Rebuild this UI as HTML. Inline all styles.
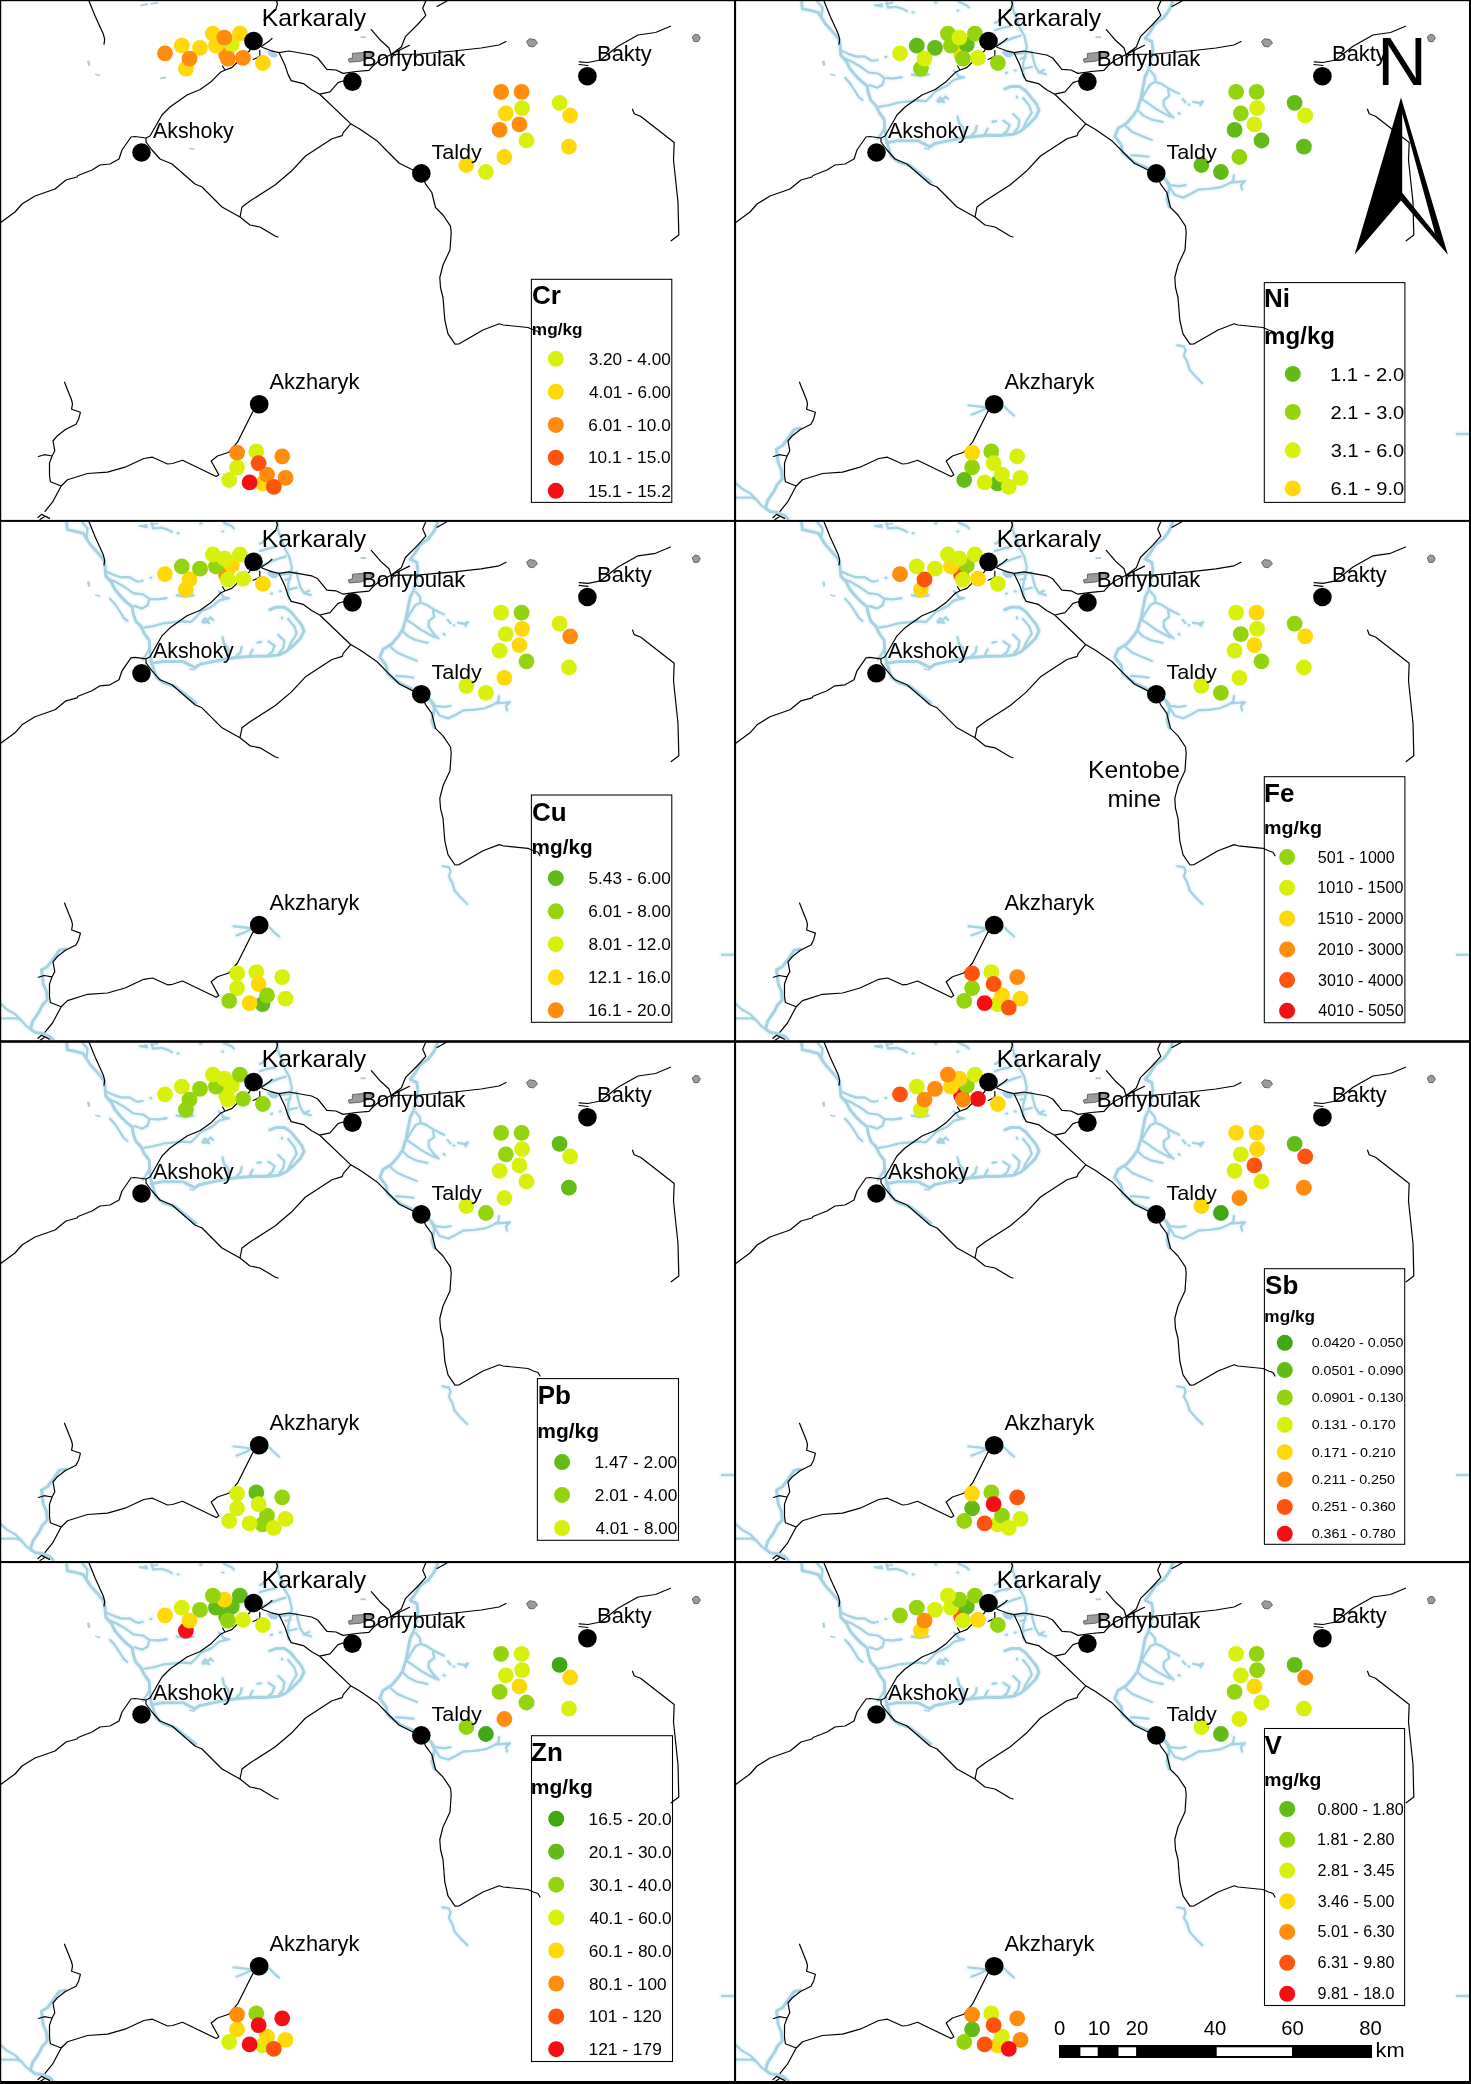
<!DOCTYPE html>
<html><head><meta charset="utf-8"><title>Heavy metals maps</title>
<style>html,body{margin:0;padding:0;background:#fff}svg{display:block}text{font-family:"Liberation Sans",sans-serif;fill:#000}svg{will-change:transform}</style></head><body>
<svg width="1471" height="2084" viewBox="0 0 1471 2084">
<defs>
<clipPath id="cp"><rect x="0" y="0" width="735.5" height="520.5"/></clipPath>
<g id="rivhalo" fill="none" stroke="#f3fbfd" stroke-width="6.5" stroke-linecap="round" stroke-linejoin="round">
<path d="M66.7 2.6 L67.3 8.8 L75.9 10.6 L83.2 12.4 L86.3 17.3 L90.6 24.0 L96.7 30.8 L102.2 36.9 L104.7 41.8 L105.3 49.1 L105.9 55.3 L111.4 61.4 L115.0 68.7 L120.0 74.8 L126.0 81.0 L132.2 85.9 L133.4 93.2 L135.9 100.5 L140.8 105.4 L144.4 112.8 L149.3 119.5 L149.6 127.8 L150.9 138.7 L153.6 148.2 L156.4 156.4 L163.2 161.8 L175.4 165.9 L187.6 175.4 L195.8 182.2 M82.6 2.0 L87.5 7.5 L86.9 13.7 L86.3 17.3 M149.6 127.8 L146.2 133.9 L142.8 138.7 M107.1 51.0 L113.8 54.0 L121.2 56.5 L129.8 56.5 L135.9 60.2 L139.5 60.8 M141.6 60.0 L142.6 60.0 M150.4 57.0 L151.4 57.0 M107.7 57.7 L116.3 61.4 L124.9 66.3 L133.4 72.4 L143.2 73.6 L149.3 77.9 L157.9 78.5 L166.5 77.3 M149.3 78.5 L147.5 84.6 L142.0 87.7 L134.6 85.2 M110.2 77.9 L115.1 83.4 L120.0 90.8 L123.6 96.9 L127.3 99.9 M144.4 106.7 L153.0 105.4 L164.0 102.4 L176.2 101.2 L182.4 100.5 L191.0 101.2 L195.8 96.5 L201.1 90.8 L211.7 85.9 L219.1 79.7 L228.9 77.3 M219.0 70.6 L221.5 72.4 L223.2 76.0 L228.1 77.3 M176.9 74.5 L185.0 76.0 L193.4 74.5 M202.5 101.0 L205.0 97.5 L208.0 99.5 L210.5 96.5 L213.0 99.0 M203.5 101.8 L206.0 101.0 L209.0 102.0 M151.2 142.8 L162.4 140.7 L182.8 140.7 L195.0 146.8 L200.0 143.4 L212.2 140.9 L224.5 138.5 L236.7 136.6 L252.6 135.4 L266.1 135.4 L278.3 134.2 L285.7 131.1 L293.0 125.0 L300.3 117.7 L304.0 110.3 L301.6 104.2 L296.7 98.1 L290.6 90.8 L284.4 86.5 L275.9 86.5 L269.8 88.9 M288.1 98.1 L294.2 105.4 L296.7 112.8 L290.6 122.6 L288.1 128.7 M278.3 114.0 L284.4 120.1 L283.2 127.5 L279.5 131.7 M268.5 120.7 L274.6 125.0 L272.2 131.1 L268.5 134.0 M257.5 121.8 L261.0 121.2 M282.0 96.6 L282.0 97.6 M252.6 128.7 L250.2 133.6 M241.6 126.2 L240.4 131.7 L236.7 134.8 M222.6 116.4 L223.9 122.6 L228.1 127.5 L229.4 133.6 M277.1 2.0 L278.3 10.0 L284.4 27.1 L289.3 35.7 L291.8 46.7 L290.6 54.0 L288.1 63.8 L288.1 71.2 L288.8 77.5 M262.4 44.9 L271.0 40.6 L279.5 37.5 L285.7 35.7 M260.0 30.2 L268.5 27.7 L274.6 26.5 M260.0 22.8 L264.9 21.0 M268.5 52.2 L279.5 54.0 L290.6 52.8 L296.7 51.6 L297.9 57.7 L300.3 66.3 L304.0 72.4 L310.7 74.2 M308.9 70.0 L304.0 72.4 M290.6 57.7 L285.7 58.9 M296.7 66.9 L289.3 68.7 M271.0 73.0 L272.0 72.6 M279.8 70.6 L280.8 70.4 M140.2 5.1 L146.9 6.3 M151.8 2.6 L153.0 7.5 L161.6 6.9 L167.7 8.8 L172.0 11.2 M177.6 12.4 L178.6 12.4 M200.3 2.6 L201.3 2.6 M222.5 10.6 L223.3 10.6 M224.0 2.0 L231.3 5.1 L233.8 7.5 M437.4 2.4 L434.2 10.0 L428.7 17.6 L420.0 24.1 L414.6 32.8 L410.2 38.3 L416.8 41.5 L417.9 49.1 L415.7 61.1 L413.5 69.8 L410.2 76.3 L408.1 87.2 L405.9 98.1 L402.6 109.0 L398.3 115.5 L391.8 123.1 L383.0 128.5 L379.8 136.2 L386.3 144.9 L387.4 152.5 L393.9 157.9 L401.5 163.4 L411.3 167.7 L421.0 173.0 L430.9 179.7 L434.6 187.6 L432.0 199.2 L434.2 206.9 M415.7 70.9 L420.0 76.3 L420.6 81.8 L415.7 84.0 L411.3 90.5 L407.0 98.1 M420.6 81.8 L426.6 84.0 L433.1 88.3 L439.6 91.6 L444.0 93.7 M433.1 90.5 L434.2 95.9 L428.7 100.3 L428.7 105.7 L433.1 112.2 L438.5 117.7 M407.0 99.2 L413.5 103.5 L421.1 109.0 L428.7 113.3 L435.3 116.6 M443.6 113.0 L444.6 113.8 M402.6 110.0 L408.1 115.5 L415.7 119.3 L427.5 122.0 M390.7 126.4 L397.2 131.8 L405.9 135.6 L416.8 140.0 M396.1 155.2 L404.8 155.7 L413.5 156.8 M447.8 99.2 L450.5 102.4 M453.6 104.4 L454.2 104.6 M458.1 101.9 L464.6 103.0 L467.9 101.4 L465.7 105.2 L464.6 103.0 M430.9 179.7 L435.3 185.1 L444.0 186.2 L450.5 185.1 M434.2 186.2 L439.6 194.9 L448.3 197.6 L455.9 193.8 L463.5 189.5 L474.4 188.9 L485.3 187.3 L492.9 184.0 L498.3 180.8 L498.9 175.3 M496.0 182.5 L504.9 181.8 L509.8 181.3 L506.0 185.1 L507.0 189.5 M442.4 345.3 L448.9 346.5 L450.6 350.2 L448.9 355.9 L452.2 361.6 L454.6 369.8 L460.4 376.3 L467.3 383.2 M233.5 405.4 L242.7 406.4 L250.9 407.4 M236.6 414.6 L244.7 411.5 L250.9 408.4 M269.2 406.4 L274.3 411.5 L279.0 415.6 M65.4 428.2 L59.2 429.5 L53.0 438.4 L47.7 445.5 L41.5 449.0 L42.4 456.0 L43.3 463.0 L46.4 470.2 L47.3 479.0 L42.4 484.3 L38.9 491.4 L32.7 500.3 L30.5 508.2 L35.4 511.7 L42.4 512.6 L49.5 515.3 L53.0 518.8 M1.3 483.5 L7.1 488.8 L15.0 493.2 L21.2 499.4 L26.5 505.5 L30.5 508.2 M1.3 497.6 L8.8 497.6 L16.8 497.6 L21.2 499.4 M722.0 434.0 L733.0 434.0"/>
</g>
<g id="riv" fill="none" stroke="#a7d2e2" stroke-linecap="round" stroke-linejoin="round">
<path stroke-width="3.1" d="M66.7 2.6 L67.3 8.8 L75.9 10.6 L83.2 12.4 L86.3 17.3 L90.6 24.0 L96.7 30.8 L102.2 36.9 L104.7 41.8 L105.3 49.1 L105.9 55.3 L111.4 61.4 L115.0 68.7 L120.0 74.8 L126.0 81.0 L132.2 85.9 L133.4 93.2 L135.9 100.5 L140.8 105.4 L144.4 112.8 L149.3 119.5 L149.6 127.8 L150.9 138.7 L153.6 148.2 L156.4 156.4 L163.2 161.8 L175.4 165.9 L187.6 175.4 L195.8 182.2 M151.2 142.8 L162.4 140.7 L182.8 140.7 L195.0 146.8 L200.0 143.4 L212.2 140.9 L224.5 138.5 L236.7 136.6 L252.6 135.4 L266.1 135.4 L278.3 134.2 L285.7 131.1 L293.0 125.0 L300.3 117.7 L304.0 110.3 L301.6 104.2 L296.7 98.1 L290.6 90.8 L284.4 86.5 L275.9 86.5 L269.8 88.9 M437.4 2.4 L434.2 10.0 L428.7 17.6 L420.0 24.1 L414.6 32.8 L410.2 38.3 L416.8 41.5 L417.9 49.1 L415.7 61.1 L413.5 69.8 L410.2 76.3 L408.1 87.2 L405.9 98.1 L402.6 109.0 L398.3 115.5 L391.8 123.1 L383.0 128.5 L379.8 136.2 L386.3 144.9 L387.4 152.5 L393.9 157.9 L401.5 163.4 L411.3 167.7 L421.0 173.0 L430.9 179.7 L434.6 187.6 L432.0 199.2 L434.2 206.9 M65.4 428.2 L59.2 429.5 L53.0 438.4 L47.7 445.5 L41.5 449.0 L42.4 456.0 L43.3 463.0 L46.4 470.2 L47.3 479.0 L42.4 484.3 L38.9 491.4 L32.7 500.3 L30.5 508.2 L35.4 511.7 L42.4 512.6 L49.5 515.3 L53.0 518.8"/>
<path stroke-width="2.4" d="M82.6 2.0 L87.5 7.5 L86.9 13.7 L86.3 17.3 M149.6 127.8 L146.2 133.9 L142.8 138.7 M107.1 51.0 L113.8 54.0 L121.2 56.5 L129.8 56.5 L135.9 60.2 L139.5 60.8 M141.6 60.0 L142.6 60.0 M150.4 57.0 L151.4 57.0 M107.7 57.7 L116.3 61.4 L124.9 66.3 L133.4 72.4 L143.2 73.6 L149.3 77.9 L157.9 78.5 L166.5 77.3 M149.3 78.5 L147.5 84.6 L142.0 87.7 L134.6 85.2 M110.2 77.9 L115.1 83.4 L120.0 90.8 L123.6 96.9 L127.3 99.9 M144.4 106.7 L153.0 105.4 L164.0 102.4 L176.2 101.2 L182.4 100.5 L191.0 101.2 L195.8 96.5 L201.1 90.8 L211.7 85.9 L219.1 79.7 L228.9 77.3 M219.0 70.6 L221.5 72.4 L223.2 76.0 L228.1 77.3 M176.9 74.5 L185.0 76.0 L193.4 74.5 M202.5 101.0 L205.0 97.5 L208.0 99.5 L210.5 96.5 L213.0 99.0 M203.5 101.8 L206.0 101.0 L209.0 102.0 M288.1 98.1 L294.2 105.4 L296.7 112.8 L290.6 122.6 L288.1 128.7 M278.3 114.0 L284.4 120.1 L283.2 127.5 L279.5 131.7 M268.5 120.7 L274.6 125.0 L272.2 131.1 L268.5 134.0 M257.5 121.8 L261.0 121.2 M282.0 96.6 L282.0 97.6 M252.6 128.7 L250.2 133.6 M241.6 126.2 L240.4 131.7 L236.7 134.8 M222.6 116.4 L223.9 122.6 L228.1 127.5 L229.4 133.6 M277.1 2.0 L278.3 10.0 L284.4 27.1 L289.3 35.7 L291.8 46.7 L290.6 54.0 L288.1 63.8 L288.1 71.2 L288.8 77.5 M262.4 44.9 L271.0 40.6 L279.5 37.5 L285.7 35.7 M260.0 30.2 L268.5 27.7 L274.6 26.5 M260.0 22.8 L264.9 21.0 M268.5 52.2 L279.5 54.0 L290.6 52.8 L296.7 51.6 L297.9 57.7 L300.3 66.3 L304.0 72.4 L310.7 74.2 M308.9 70.0 L304.0 72.4 M290.6 57.7 L285.7 58.9 M296.7 66.9 L289.3 68.7 M271.0 73.0 L272.0 72.6 M279.8 70.6 L280.8 70.4 M140.2 5.1 L146.9 6.3 M151.8 2.6 L153.0 7.5 L161.6 6.9 L167.7 8.8 L172.0 11.2 M177.6 12.4 L178.6 12.4 M200.3 2.6 L201.3 2.6 M222.5 10.6 L223.3 10.6 M224.0 2.0 L231.3 5.1 L233.8 7.5 M415.7 70.9 L420.0 76.3 L420.6 81.8 L415.7 84.0 L411.3 90.5 L407.0 98.1 M420.6 81.8 L426.6 84.0 L433.1 88.3 L439.6 91.6 L444.0 93.7 M433.1 90.5 L434.2 95.9 L428.7 100.3 L428.7 105.7 L433.1 112.2 L438.5 117.7 M407.0 99.2 L413.5 103.5 L421.1 109.0 L428.7 113.3 L435.3 116.6 M443.6 113.0 L444.6 113.8 M402.6 110.0 L408.1 115.5 L415.7 119.3 L427.5 122.0 M390.7 126.4 L397.2 131.8 L405.9 135.6 L416.8 140.0 M396.1 155.2 L404.8 155.7 L413.5 156.8 M447.8 99.2 L450.5 102.4 M453.6 104.4 L454.2 104.6 M458.1 101.9 L464.6 103.0 L467.9 101.4 L465.7 105.2 L464.6 103.0 M430.9 179.7 L435.3 185.1 L444.0 186.2 L450.5 185.1 M434.2 186.2 L439.6 194.9 L448.3 197.6 L455.9 193.8 L463.5 189.5 L474.4 188.9 L485.3 187.3 L492.9 184.0 L498.3 180.8 L498.9 175.3 M496.0 182.5 L504.9 181.8 L509.8 181.3 L506.0 185.1 L507.0 189.5 M442.4 345.3 L448.9 346.5 L450.6 350.2 L448.9 355.9 L452.2 361.6 L454.6 369.8 L460.4 376.3 L467.3 383.2 M233.5 405.4 L242.7 406.4 L250.9 407.4 M236.6 414.6 L244.7 411.5 L250.9 408.4 M269.2 406.4 L274.3 411.5 L279.0 415.6 M1.3 483.5 L7.1 488.8 L15.0 493.2 L21.2 499.4 L26.5 505.5 L30.5 508.2 M1.3 497.6 L8.8 497.6 L16.8 497.6 L21.2 499.4 M722.0 434.0 L733.0 434.0"/>
</g>
<g id="lakes" fill="#a9d0e8" stroke="none">
<path d="M267.7 51.0 L272.0 50.0 L278.0 55.0 L276.0 57.5 L271.0 57.0 L268.0 54.0Z"/>
<path d="M140.0 4.8 L147.0 3.0 L148.0 5.0 L141.0 6.5Z"/>
<path d="M150.0 3.2 L158.0 1.8 L158.5 3.5 L151.0 4.8Z"/>
<path d="M87.0 61.0 L89.5 60.5 L90.5 65.5 L88.0 66.0Z"/>
<path d="M95.2 73.5 L100.6 74.8 L100.2 76.3 L95.0 75.0Z"/>
<path d="M160.0 77.5 L166.0 76.5 L166.0 78.5 L160.5 79.3Z"/>
<path d="M360.5 36.2 L366.0 36.2 L366.0 38.2 L360.5 38.2Z"/>
<path d="M189.0 147.5 L195.0 148.5 L194.5 150.0 L189.0 149.0Z"/>
</g>
<g id="roads" fill="none" stroke="#000" stroke-width="1.2" stroke-linejoin="round" stroke-linecap="round">
<path d="M89.0 1.0 L95.2 16.3 L103.3 34.0 L104.7 39.4 L104.0 44.2 M0.0 223.0 L15.0 212.0 L22.0 204.0 L35.0 196.0 L55.0 189.0 L66.0 180.0 L77.0 177.0 L78.0 175.5 L92.0 170.0 L100.0 165.0 L110.0 164.0 L119.0 159.0 L122.0 150.0 L131.0 137.0 L135.0 136.5 L146.0 138.0 L150.0 136.0 L162.0 115.0 L170.0 107.0 L187.0 95.0 L200.2 89.5 L211.4 81.4 L220.6 72.2 L224.6 70.2 L231.8 67.6 L236.4 63.0 L249.6 50.8 L253.5 41.0 M222.6 66.0 L224.6 69.5 M259.8 50.3 L259.8 56.4 L253.2 59.5 M262.4 45.7 L268.5 41.6 L272.0 38.5 M146.0 138.0 L146.0 142.0 L152.0 150.0 L160.0 159.0 L172.0 164.0 L195.0 184.0 L202.0 187.0 L222.0 207.0 L240.0 217.0 L250.0 225.0 L260.0 227.0 L275.0 236.0 L278.0 237.0 M240.0 217.0 L242.0 207.0 L250.0 201.0 L275.0 185.0 L291.2 171.3 L305.5 156.0 L319.7 146.8 L332.0 138.7 L342.2 135.6 L343.2 132.6 L350.3 124.4 M253.5 41.0 L262.6 47.5 L271.5 50.8 L279.0 52.6 L289.0 51.0 L311.6 55.0 L317.7 58.0 L326.9 69.3 L336.0 70.0 L343.0 73.4 L356.0 71.5 L369.0 70.4 L372.8 66.0 L380.0 60.0 L391.0 54.5 M279.0 52.6 L285.0 65.3 L288.0 74.4 L291.2 80.6 L303.4 83.6 L311.6 89.7 L319.7 94.2 L350.3 123.4 L360.5 129.5 L376.8 140.7 L389.0 153.0 L399.3 163.2 L411.5 169.3 L421.0 173.5 M319.7 94.2 L330.0 91.8 L338.0 82.6 L343.0 81.0 L352.0 81.5 M391.0 54.5 L420.0 54.0 L454.0 51.0 L481.0 48.0 L499.0 45.0 L506.0 41.5 M391.0 54.5 L401.3 47.0 L405.4 36.7 L417.6 24.5 L425.8 15.3 L422.7 8.2 L425.8 1.0 M371.3 29.6 L381.0 40.8 L389.0 48.0 L391.0 54.0 M393.0 53.4 L409.5 45.3 M437.0 6.5 L447.0 1.0 M276.5 1.0 L277.5 4.0 L275.5 10.0 L264.0 20.0 M421.0 173.5 L425.5 183.8 L431.8 192.5 L435.5 207.5 L443.0 215.0 L450.5 226.2 L451.2 232.5 L450.0 250.0 L443.0 265.0 L439.8 277.5 L440.5 287.5 L443.0 297.5 L444.8 320.0 L448.0 333.8 L455.0 344.2 L459.2 343.8 L483.0 330.0 L499.2 323.8 L503.0 325.0 L528.0 327.5 L533.5 330.0 L538.0 331.5 L540.0 335.0 M579.2 61.8 L588.0 62.5 L600.5 60.0 L618.0 46.2 L638.0 35.0 L655.5 32.5 L670.5 26.2 M579.0 64.5 L588.0 65.5 M632.5 109.2 L634.2 113.8 L640.5 116.2 L674.2 142.5 L673.5 160.0 L678.0 202.5 L678.8 235.0 L671.2 240.8 M259.2 404.2 L252.5 412.2 L237.5 442.2 L228.8 452.2 L217.5 456.0 L211.2 461.0 L218.8 474.8 L216.2 476.5 L182.5 460.2 L172.5 463.5 L167.5 464.0 L152.5 457.2 L143.8 458.5 L125.0 467.2 L107.5 472.2 L87.5 473.5 L67.5 479.8 L61.2 486.0 L52.5 502.2 L45.0 511.3 M38.0 517.5 L41.5 514.4 L46.0 516.6 L49.5 518.4 M40.0 519.5 L44.0 517.0 M61.2 486.0 L50.4 481.7 L49.5 475.5 L49.5 463.1 L52.1 456.0 L54.8 450.8 L53.0 441.0 L57.4 435.7 L65.4 429.5 L76.0 424.2 L78.7 418.9 L80.4 412.3 L71.6 409.2 L72.5 403.9 L71.6 400.0 L64.5 382.2 M52.1 456.0 L44.2 454.7 L38.4 456.5"/>
</g>
<g id="towns">
<path d="M352.4 53.4 L370.7 52.0 L371.7 57.1 L360.5 61.2 L349.3 62.2 L348.3 59.1 L352.4 58.1Z" fill="#9b9b9b" stroke="#5a5a5a" stroke-width="0.9"/>
<path d="M526.5 41.5 L529.5 38.8 L535.0 39.6 L537.5 43.0 L533.5 47.0 L529.0 46.2Z" fill="#9b9b9b" stroke="#5a5a5a" stroke-width="0.9"/>
<path d="M692.3 37.0 L695.0 34.3 L698.3 34.8 L700.3 38.0 L698.2 41.5 L694.0 41.6Z" fill="#9b9b9b" stroke="#5a5a5a" stroke-width="0.9"/>
<circle cx="253.5" cy="41.0" r="9.3" fill="#000"/>
<circle cx="352.4" cy="81.6" r="9.3" fill="#000"/>
<circle cx="421.3" cy="173.4" r="9.3" fill="#000"/>
<circle cx="587.4" cy="76.2" r="9.3" fill="#000"/>
<circle cx="141.5" cy="152.5" r="9.3" fill="#000"/>
<circle cx="259.2" cy="404.2" r="9.3" fill="#000"/>
</g>
<g id="labels">
<text x="261.77" y="26.00" font-size="24.00" textLength="104.42" lengthAdjust="spacingAndGlyphs">Karkaraly</text>
<text x="361.83" y="66.30" font-size="22.00" textLength="103.61" lengthAdjust="spacingAndGlyphs">Borlybulak</text>
<text x="153.00" y="137.50" font-size="21.50" textLength="80.75" lengthAdjust="spacingAndGlyphs">Akshoky</text>
<text x="431.51" y="158.70" font-size="21.00" textLength="50.41" lengthAdjust="spacingAndGlyphs">Taldy</text>
<text x="597.02" y="61.25" font-size="21.50" textLength="54.80" lengthAdjust="spacingAndGlyphs">Bakty</text>
<text x="269.50" y="389.25" font-size="22.00" textLength="89.85" lengthAdjust="spacingAndGlyphs">Akzharyk</text>
</g>
</defs>
<rect x="0" y="0" width="1471" height="2084" fill="#fff"/>
<g transform="translate(0.0,0.0)" clip-path="url(#cp)">
<use href="#lakes"/><use href="#roads"/>
<circle cx="226.2" cy="54.4" r="7.9" fill="#ff8c0c"/>
<circle cx="165.0" cy="53.3" r="7.9" fill="#ff8c0c"/>
<circle cx="181.8" cy="45.7" r="7.9" fill="#ffd80a"/>
<circle cx="185.9" cy="68.6" r="7.9" fill="#ffd80a"/>
<circle cx="200.0" cy="47.9" r="7.9" fill="#ffd80a"/>
<circle cx="189.5" cy="58.7" r="7.9" fill="#ff8c0c"/>
<circle cx="216.0" cy="45.7" r="7.9" fill="#ffd80a"/>
<circle cx="212.9" cy="33.7" r="7.9" fill="#ffd80a"/>
<circle cx="231.8" cy="44.7" r="7.9" fill="#d9f00c"/>
<circle cx="224.4" cy="37.7" r="7.9" fill="#ff8c0c"/>
<circle cx="239.9" cy="33.7" r="7.9" fill="#ffd80a"/>
<circle cx="243.0" cy="57.9" r="7.9" fill="#ff8c0c"/>
<circle cx="227.9" cy="58.7" r="7.9" fill="#ff8c0c"/>
<circle cx="262.9" cy="63.0" r="7.9" fill="#ffd80a"/>
<circle cx="501.1" cy="91.8" r="7.9" fill="#ff8c0c"/>
<circle cx="521.6" cy="91.8" r="7.9" fill="#ff8c0c"/>
<circle cx="522.1" cy="108.1" r="7.9" fill="#d9f00c"/>
<circle cx="505.8" cy="113.3" r="7.9" fill="#ffd80a"/>
<circle cx="519.4" cy="124.4" r="7.9" fill="#ff8c0c"/>
<circle cx="499.6" cy="129.8" r="7.9" fill="#ff8c0c"/>
<circle cx="526.5" cy="140.5" r="7.9" fill="#d9f00c"/>
<circle cx="504.4" cy="157.0" r="7.9" fill="#ffd80a"/>
<circle cx="466.4" cy="165.0" r="7.9" fill="#ffd80a"/>
<circle cx="485.9" cy="172.0" r="7.9" fill="#d9f00c"/>
<circle cx="559.6" cy="102.8" r="7.9" fill="#d9f00c"/>
<circle cx="570.2" cy="115.5" r="7.9" fill="#ffd80a"/>
<circle cx="568.9" cy="146.7" r="7.9" fill="#ffd80a"/>
<circle cx="256.3" cy="451.4" r="7.9" fill="#d9f00c"/>
<circle cx="237.1" cy="467.3" r="7.9" fill="#d9f00c"/>
<circle cx="237.1" cy="452.6" r="7.9" fill="#ff8c0c"/>
<circle cx="229.2" cy="480.0" r="7.9" fill="#d9f00c"/>
<circle cx="282.2" cy="456.3" r="7.9" fill="#ff8c0c"/>
<circle cx="262.5" cy="483.3" r="7.9" fill="#ffd80a"/>
<circle cx="249.6" cy="482.4" r="7.9" fill="#f50f14"/>
<circle cx="267.0" cy="474.6" r="7.9" fill="#ff8c0c"/>
<circle cx="258.6" cy="463.2" r="7.9" fill="#ff5410"/>
<circle cx="285.5" cy="477.9" r="7.9" fill="#ff8c0c"/>
<circle cx="273.8" cy="486.9" r="7.9" fill="#ff5410"/>
<use href="#towns"/><use href="#labels"/>
</g>
<g transform="translate(735.0,0.0)" clip-path="url(#cp)">
<use href="#rivhalo"/><use href="#riv"/>
<use href="#lakes"/><use href="#roads"/>
<circle cx="226.2" cy="54.4" r="7.9" fill="#ffd80a"/>
<circle cx="165.0" cy="53.3" r="7.9" fill="#d9f00c"/>
<circle cx="181.8" cy="45.7" r="7.9" fill="#62bb16"/>
<circle cx="185.9" cy="68.6" r="7.9" fill="#94d40f"/>
<circle cx="200.0" cy="47.9" r="7.9" fill="#62bb16"/>
<circle cx="189.5" cy="58.7" r="7.9" fill="#d9f00c"/>
<circle cx="216.0" cy="45.7" r="7.9" fill="#94d40f"/>
<circle cx="212.9" cy="33.7" r="7.9" fill="#94d40f"/>
<circle cx="231.8" cy="44.7" r="7.9" fill="#62bb16"/>
<circle cx="224.4" cy="37.7" r="7.9" fill="#d9f00c"/>
<circle cx="239.9" cy="33.7" r="7.9" fill="#94d40f"/>
<circle cx="243.0" cy="57.9" r="7.9" fill="#d9f00c"/>
<circle cx="227.9" cy="58.7" r="7.9" fill="#94d40f"/>
<circle cx="262.9" cy="63.0" r="7.9" fill="#94d40f"/>
<circle cx="501.1" cy="91.8" r="7.9" fill="#94d40f"/>
<circle cx="521.6" cy="91.8" r="7.9" fill="#94d40f"/>
<circle cx="522.1" cy="108.1" r="7.9" fill="#d9f00c"/>
<circle cx="505.8" cy="113.3" r="7.9" fill="#94d40f"/>
<circle cx="519.4" cy="124.4" r="7.9" fill="#d9f00c"/>
<circle cx="499.6" cy="129.8" r="7.9" fill="#62bb16"/>
<circle cx="526.5" cy="140.5" r="7.9" fill="#62bb16"/>
<circle cx="504.4" cy="157.0" r="7.9" fill="#94d40f"/>
<circle cx="466.4" cy="165.0" r="7.9" fill="#62bb16"/>
<circle cx="485.9" cy="172.0" r="7.9" fill="#62bb16"/>
<circle cx="559.6" cy="102.8" r="7.9" fill="#62bb16"/>
<circle cx="570.2" cy="115.5" r="7.9" fill="#d9f00c"/>
<circle cx="568.9" cy="146.7" r="7.9" fill="#62bb16"/>
<circle cx="256.3" cy="451.4" r="7.9" fill="#94d40f"/>
<circle cx="237.1" cy="467.3" r="7.9" fill="#94d40f"/>
<circle cx="237.1" cy="452.6" r="7.9" fill="#ffd80a"/>
<circle cx="229.2" cy="480.0" r="7.9" fill="#62bb16"/>
<circle cx="282.2" cy="456.3" r="7.9" fill="#d9f00c"/>
<circle cx="262.5" cy="483.3" r="7.9" fill="#62bb16"/>
<circle cx="249.6" cy="482.4" r="7.9" fill="#d9f00c"/>
<circle cx="267.0" cy="474.6" r="7.9" fill="#d9f00c"/>
<circle cx="258.6" cy="463.2" r="7.9" fill="#d9f00c"/>
<circle cx="285.5" cy="477.9" r="7.9" fill="#d9f00c"/>
<circle cx="273.8" cy="486.9" r="7.9" fill="#d9f00c"/>
<use href="#towns"/><use href="#labels"/>
</g>
<g transform="translate(0.0,520.8)" clip-path="url(#cp)">
<use href="#rivhalo"/><use href="#riv"/>
<use href="#lakes"/><use href="#roads"/>
<circle cx="226.2" cy="54.4" r="7.9" fill="#ff8c0c"/>
<circle cx="165.0" cy="53.3" r="7.9" fill="#ffd80a"/>
<circle cx="185.9" cy="68.6" r="7.9" fill="#ffd80a"/>
<circle cx="189.5" cy="58.7" r="7.9" fill="#ffd80a"/>
<circle cx="181.8" cy="45.7" r="7.9" fill="#94d40f"/>
<circle cx="200.0" cy="47.9" r="7.9" fill="#94d40f"/>
<circle cx="216.0" cy="45.7" r="7.9" fill="#94d40f"/>
<circle cx="212.9" cy="33.7" r="7.9" fill="#d9f00c"/>
<circle cx="231.8" cy="44.7" r="7.9" fill="#ffd80a"/>
<circle cx="224.4" cy="37.7" r="7.9" fill="#d9f00c"/>
<circle cx="239.9" cy="33.7" r="7.9" fill="#d9f00c"/>
<circle cx="243.0" cy="57.9" r="7.9" fill="#d9f00c"/>
<circle cx="227.9" cy="58.7" r="7.9" fill="#d9f00c"/>
<circle cx="262.9" cy="63.0" r="7.9" fill="#ffd80a"/>
<circle cx="501.1" cy="91.8" r="7.9" fill="#d9f00c"/>
<circle cx="521.6" cy="91.8" r="7.9" fill="#94d40f"/>
<circle cx="522.1" cy="108.1" r="7.9" fill="#ffd80a"/>
<circle cx="505.8" cy="113.3" r="7.9" fill="#d9f00c"/>
<circle cx="519.4" cy="124.4" r="7.9" fill="#ffd80a"/>
<circle cx="499.6" cy="129.8" r="7.9" fill="#d9f00c"/>
<circle cx="526.5" cy="140.5" r="7.9" fill="#94d40f"/>
<circle cx="504.4" cy="157.0" r="7.9" fill="#ffd80a"/>
<circle cx="466.4" cy="165.0" r="7.9" fill="#d9f00c"/>
<circle cx="485.9" cy="172.0" r="7.9" fill="#d9f00c"/>
<circle cx="559.6" cy="102.8" r="7.9" fill="#d9f00c"/>
<circle cx="570.2" cy="115.5" r="7.9" fill="#ff8c0c"/>
<circle cx="568.9" cy="146.7" r="7.9" fill="#d9f00c"/>
<circle cx="256.3" cy="451.4" r="7.9" fill="#d9f00c"/>
<circle cx="237.1" cy="467.3" r="7.9" fill="#d9f00c"/>
<circle cx="237.1" cy="452.6" r="7.9" fill="#d9f00c"/>
<circle cx="229.2" cy="480.0" r="7.9" fill="#94d40f"/>
<circle cx="282.2" cy="456.3" r="7.9" fill="#d9f00c"/>
<circle cx="262.5" cy="483.3" r="7.9" fill="#62bb16"/>
<circle cx="249.6" cy="482.4" r="7.9" fill="#ffd80a"/>
<circle cx="258.6" cy="463.2" r="7.9" fill="#ffd80a"/>
<circle cx="267.0" cy="474.6" r="7.9" fill="#94d40f"/>
<circle cx="285.5" cy="477.9" r="7.9" fill="#d9f00c"/>
<use href="#towns"/><use href="#labels"/>
</g>
<g transform="translate(735.0,520.8)" clip-path="url(#cp)">
<use href="#rivhalo"/><use href="#riv"/>
<use href="#lakes"/><use href="#roads"/>
<circle cx="226.2" cy="54.4" r="7.9" fill="#ff5410"/>
<circle cx="165.0" cy="53.3" r="7.9" fill="#ff8c0c"/>
<circle cx="181.8" cy="45.7" r="7.9" fill="#d9f00c"/>
<circle cx="185.9" cy="68.6" r="7.9" fill="#ffd80a"/>
<circle cx="200.0" cy="47.9" r="7.9" fill="#d9f00c"/>
<circle cx="189.5" cy="58.7" r="7.9" fill="#ff5410"/>
<circle cx="216.0" cy="45.7" r="7.9" fill="#ffd80a"/>
<circle cx="212.9" cy="33.7" r="7.9" fill="#d9f00c"/>
<circle cx="231.8" cy="44.7" r="7.9" fill="#94d40f"/>
<circle cx="224.4" cy="37.7" r="7.9" fill="#d9f00c"/>
<circle cx="239.9" cy="33.7" r="7.9" fill="#d9f00c"/>
<circle cx="243.0" cy="57.9" r="7.9" fill="#ffd80a"/>
<circle cx="227.9" cy="58.7" r="7.9" fill="#d9f00c"/>
<circle cx="262.9" cy="63.0" r="7.9" fill="#d9f00c"/>
<circle cx="501.1" cy="91.8" r="7.9" fill="#d9f00c"/>
<circle cx="521.6" cy="91.8" r="7.9" fill="#ffd80a"/>
<circle cx="522.1" cy="108.1" r="7.9" fill="#d9f00c"/>
<circle cx="505.8" cy="113.3" r="7.9" fill="#94d40f"/>
<circle cx="519.4" cy="124.4" r="7.9" fill="#ffd80a"/>
<circle cx="499.6" cy="129.8" r="7.9" fill="#d9f00c"/>
<circle cx="526.5" cy="140.5" r="7.9" fill="#94d40f"/>
<circle cx="504.4" cy="157.0" r="7.9" fill="#d9f00c"/>
<circle cx="466.4" cy="165.0" r="7.9" fill="#d9f00c"/>
<circle cx="485.9" cy="172.0" r="7.9" fill="#94d40f"/>
<circle cx="559.6" cy="102.8" r="7.9" fill="#94d40f"/>
<circle cx="570.2" cy="115.5" r="7.9" fill="#ffd80a"/>
<circle cx="568.9" cy="146.7" r="7.9" fill="#d9f00c"/>
<circle cx="256.3" cy="451.4" r="7.9" fill="#d9f00c"/>
<circle cx="237.1" cy="467.3" r="7.9" fill="#94d40f"/>
<circle cx="237.1" cy="452.6" r="7.9" fill="#ff5410"/>
<circle cx="229.2" cy="480.0" r="7.9" fill="#94d40f"/>
<circle cx="282.2" cy="456.3" r="7.9" fill="#ff8c0c"/>
<circle cx="262.5" cy="483.3" r="7.9" fill="#d9f00c"/>
<circle cx="249.6" cy="482.4" r="7.9" fill="#f50f14"/>
<circle cx="267.0" cy="474.6" r="7.9" fill="#ffd80a"/>
<circle cx="258.6" cy="463.2" r="7.9" fill="#ff5410"/>
<circle cx="285.5" cy="477.9" r="7.9" fill="#ffd80a"/>
<circle cx="273.8" cy="486.9" r="7.9" fill="#ff5410"/>
<use href="#towns"/><use href="#labels"/>
<text x="353.07" y="257.50" font-size="24.00" textLength="91.87" lengthAdjust="spacingAndGlyphs">Kentobe</text>
<text x="372.45" y="286.00" font-size="24.00" textLength="53.60" lengthAdjust="spacingAndGlyphs">mine</text>
</g>
<g transform="translate(0.0,1041.0)" clip-path="url(#cp)">
<use href="#rivhalo"/><use href="#riv"/>
<use href="#lakes"/><use href="#roads"/>
<circle cx="226.2" cy="54.4" r="7.9" fill="#d9f00c"/>
<circle cx="165.0" cy="53.3" r="7.9" fill="#d9f00c"/>
<circle cx="181.8" cy="45.7" r="7.9" fill="#d9f00c"/>
<circle cx="185.9" cy="68.6" r="7.9" fill="#94d40f"/>
<circle cx="200.0" cy="47.9" r="7.9" fill="#94d40f"/>
<circle cx="189.5" cy="58.7" r="7.9" fill="#94d40f"/>
<circle cx="216.0" cy="45.7" r="7.9" fill="#94d40f"/>
<circle cx="212.9" cy="33.7" r="7.9" fill="#d9f00c"/>
<circle cx="231.8" cy="44.7" r="7.9" fill="#d9f00c"/>
<circle cx="224.4" cy="37.7" r="7.9" fill="#d9f00c"/>
<circle cx="239.9" cy="33.7" r="7.9" fill="#94d40f"/>
<circle cx="243.0" cy="57.9" r="7.9" fill="#94d40f"/>
<circle cx="227.9" cy="58.7" r="7.9" fill="#d9f00c"/>
<circle cx="262.9" cy="63.0" r="7.9" fill="#94d40f"/>
<circle cx="501.1" cy="91.8" r="7.9" fill="#94d40f"/>
<circle cx="521.6" cy="91.8" r="7.9" fill="#94d40f"/>
<circle cx="522.1" cy="108.1" r="7.9" fill="#d9f00c"/>
<circle cx="505.8" cy="113.3" r="7.9" fill="#94d40f"/>
<circle cx="519.4" cy="124.4" r="7.9" fill="#d9f00c"/>
<circle cx="499.6" cy="129.8" r="7.9" fill="#d9f00c"/>
<circle cx="526.5" cy="140.5" r="7.9" fill="#d9f00c"/>
<circle cx="504.4" cy="157.0" r="7.9" fill="#d9f00c"/>
<circle cx="466.4" cy="165.0" r="7.9" fill="#d9f00c"/>
<circle cx="485.9" cy="172.0" r="7.9" fill="#94d40f"/>
<circle cx="559.6" cy="102.8" r="7.9" fill="#62bb16"/>
<circle cx="570.2" cy="115.5" r="7.9" fill="#d9f00c"/>
<circle cx="568.9" cy="146.7" r="7.9" fill="#62bb16"/>
<circle cx="256.3" cy="451.4" r="7.9" fill="#62bb16"/>
<circle cx="237.1" cy="467.3" r="7.9" fill="#d9f00c"/>
<circle cx="237.1" cy="452.6" r="7.9" fill="#d9f00c"/>
<circle cx="229.2" cy="480.0" r="7.9" fill="#d9f00c"/>
<circle cx="282.2" cy="456.3" r="7.9" fill="#94d40f"/>
<circle cx="262.5" cy="483.3" r="7.9" fill="#94d40f"/>
<circle cx="249.6" cy="482.4" r="7.9" fill="#d9f00c"/>
<circle cx="267.0" cy="474.6" r="7.9" fill="#94d40f"/>
<circle cx="258.6" cy="463.2" r="7.9" fill="#d9f00c"/>
<circle cx="285.5" cy="477.9" r="7.9" fill="#d9f00c"/>
<circle cx="273.8" cy="486.9" r="7.9" fill="#d9f00c"/>
<use href="#towns"/><use href="#labels"/>
</g>
<g transform="translate(735.0,1041.0)" clip-path="url(#cp)">
<use href="#rivhalo"/><use href="#riv"/>
<use href="#lakes"/><use href="#roads"/>
<circle cx="226.2" cy="54.4" r="7.9" fill="#f50f14"/>
<circle cx="165.0" cy="53.3" r="7.9" fill="#ff5410"/>
<circle cx="181.8" cy="45.7" r="7.9" fill="#d9f00c"/>
<circle cx="185.9" cy="68.6" r="7.9" fill="#d9f00c"/>
<circle cx="200.0" cy="47.9" r="7.9" fill="#ff8c0c"/>
<circle cx="189.5" cy="58.7" r="7.9" fill="#ff8c0c"/>
<circle cx="216.0" cy="45.7" r="7.9" fill="#ffd80a"/>
<circle cx="231.8" cy="44.7" r="7.9" fill="#94d40f"/>
<circle cx="224.4" cy="37.7" r="7.9" fill="#ffd80a"/>
<circle cx="212.9" cy="33.7" r="7.9" fill="#ff8c0c"/>
<circle cx="239.9" cy="33.7" r="7.9" fill="#d9f00c"/>
<circle cx="243.0" cy="57.9" r="7.9" fill="#f50f14"/>
<circle cx="227.9" cy="58.7" r="7.9" fill="#ff8c0c"/>
<circle cx="262.9" cy="63.0" r="7.9" fill="#ffd80a"/>
<circle cx="501.1" cy="91.8" r="7.9" fill="#ffd80a"/>
<circle cx="521.6" cy="91.8" r="7.9" fill="#ffd80a"/>
<circle cx="522.1" cy="108.1" r="7.9" fill="#ffd80a"/>
<circle cx="505.8" cy="113.3" r="7.9" fill="#d9f00c"/>
<circle cx="519.4" cy="124.4" r="7.9" fill="#ff5410"/>
<circle cx="499.6" cy="129.8" r="7.9" fill="#d9f00c"/>
<circle cx="526.5" cy="140.5" r="7.9" fill="#d9f00c"/>
<circle cx="504.4" cy="157.0" r="7.9" fill="#ff8c0c"/>
<circle cx="466.4" cy="165.0" r="7.9" fill="#ffd80a"/>
<circle cx="485.9" cy="172.0" r="7.9" fill="#3fa814"/>
<circle cx="559.6" cy="102.8" r="7.9" fill="#62bb16"/>
<circle cx="570.2" cy="115.5" r="7.9" fill="#ff5410"/>
<circle cx="568.9" cy="146.7" r="7.9" fill="#ff8c0c"/>
<circle cx="256.3" cy="451.4" r="7.9" fill="#94d40f"/>
<circle cx="237.1" cy="467.3" r="7.9" fill="#62bb16"/>
<circle cx="237.1" cy="452.6" r="7.9" fill="#ffd80a"/>
<circle cx="229.2" cy="480.0" r="7.9" fill="#94d40f"/>
<circle cx="282.2" cy="456.3" r="7.9" fill="#ff5410"/>
<circle cx="262.5" cy="483.3" r="7.9" fill="#d9f00c"/>
<circle cx="249.6" cy="482.4" r="7.9" fill="#ff5410"/>
<circle cx="267.0" cy="474.6" r="7.9" fill="#94d40f"/>
<circle cx="258.6" cy="463.2" r="7.9" fill="#f50f14"/>
<circle cx="285.5" cy="477.9" r="7.9" fill="#d9f00c"/>
<circle cx="273.8" cy="486.9" r="7.9" fill="#d9f00c"/>
<use href="#towns"/><use href="#labels"/>
</g>
<g transform="translate(0.0,1562.0)" clip-path="url(#cp)">
<use href="#rivhalo"/><use href="#riv"/>
<use href="#lakes"/><use href="#roads"/>
<circle cx="226.2" cy="54.4" r="7.9" fill="#62bb16"/>
<circle cx="165.0" cy="53.3" r="7.9" fill="#ffd80a"/>
<circle cx="181.8" cy="45.7" r="7.9" fill="#d9f00c"/>
<circle cx="185.9" cy="68.6" r="7.9" fill="#f50f14"/>
<circle cx="200.0" cy="47.9" r="7.9" fill="#94d40f"/>
<circle cx="189.5" cy="58.7" r="7.9" fill="#ffd80a"/>
<circle cx="216.0" cy="45.7" r="7.9" fill="#62bb16"/>
<circle cx="231.8" cy="44.7" r="7.9" fill="#62bb16"/>
<circle cx="224.4" cy="37.7" r="7.9" fill="#ffd80a"/>
<circle cx="212.9" cy="33.7" r="7.9" fill="#94d40f"/>
<circle cx="239.9" cy="33.7" r="7.9" fill="#62bb16"/>
<circle cx="243.0" cy="57.9" r="7.9" fill="#d9f00c"/>
<circle cx="227.9" cy="58.7" r="7.9" fill="#94d40f"/>
<circle cx="262.9" cy="63.0" r="7.9" fill="#d9f00c"/>
<circle cx="501.1" cy="91.8" r="7.9" fill="#94d40f"/>
<circle cx="521.6" cy="91.8" r="7.9" fill="#d9f00c"/>
<circle cx="522.1" cy="108.1" r="7.9" fill="#d9f00c"/>
<circle cx="505.8" cy="113.3" r="7.9" fill="#d9f00c"/>
<circle cx="519.4" cy="124.4" r="7.9" fill="#ffd80a"/>
<circle cx="499.6" cy="129.8" r="7.9" fill="#94d40f"/>
<circle cx="526.5" cy="140.5" r="7.9" fill="#94d40f"/>
<circle cx="504.4" cy="157.0" r="7.9" fill="#ff8c0c"/>
<circle cx="466.4" cy="165.0" r="7.9" fill="#94d40f"/>
<circle cx="485.9" cy="172.0" r="7.9" fill="#3fa814"/>
<circle cx="559.6" cy="102.8" r="7.9" fill="#3fa814"/>
<circle cx="570.2" cy="115.5" r="7.9" fill="#ffd80a"/>
<circle cx="568.9" cy="146.7" r="7.9" fill="#d9f00c"/>
<circle cx="256.3" cy="451.4" r="7.9" fill="#94d40f"/>
<circle cx="237.1" cy="467.3" r="7.9" fill="#ffd80a"/>
<circle cx="237.1" cy="452.6" r="7.9" fill="#ff8c0c"/>
<circle cx="229.2" cy="480.0" r="7.9" fill="#d9f00c"/>
<circle cx="282.2" cy="456.3" r="7.9" fill="#f50f14"/>
<circle cx="262.5" cy="483.3" r="7.9" fill="#d9f00c"/>
<circle cx="249.6" cy="482.4" r="7.9" fill="#f50f14"/>
<circle cx="267.0" cy="474.6" r="7.9" fill="#ffd80a"/>
<circle cx="258.6" cy="463.2" r="7.9" fill="#f50f14"/>
<circle cx="285.5" cy="477.9" r="7.9" fill="#ffd80a"/>
<circle cx="273.8" cy="486.9" r="7.9" fill="#ff5410"/>
<use href="#towns"/><use href="#labels"/>
</g>
<g transform="translate(735.0,1562.0)" clip-path="url(#cp)">
<use href="#rivhalo"/><use href="#riv"/>
<use href="#lakes"/><use href="#roads"/>
<circle cx="226.2" cy="54.4" r="7.9" fill="#ff5410"/>
<circle cx="165.0" cy="53.3" r="7.9" fill="#94d40f"/>
<circle cx="181.8" cy="45.7" r="7.9" fill="#94d40f"/>
<circle cx="185.9" cy="68.6" r="7.9" fill="#ffd80a"/>
<circle cx="200.0" cy="47.9" r="7.9" fill="#d9f00c"/>
<circle cx="189.5" cy="58.7" r="7.9" fill="#ff8c0c"/>
<circle cx="216.0" cy="45.7" r="7.9" fill="#d9f00c"/>
<circle cx="231.8" cy="44.7" r="7.9" fill="#62bb16"/>
<circle cx="224.4" cy="37.7" r="7.9" fill="#94d40f"/>
<circle cx="212.9" cy="33.7" r="7.9" fill="#d9f00c"/>
<circle cx="239.9" cy="33.7" r="7.9" fill="#94d40f"/>
<circle cx="243.0" cy="57.9" r="7.9" fill="#ffd80a"/>
<circle cx="227.9" cy="58.7" r="7.9" fill="#d9f00c"/>
<circle cx="262.9" cy="63.0" r="7.9" fill="#94d40f"/>
<circle cx="501.1" cy="91.8" r="7.9" fill="#d9f00c"/>
<circle cx="521.6" cy="91.8" r="7.9" fill="#94d40f"/>
<circle cx="522.1" cy="108.1" r="7.9" fill="#94d40f"/>
<circle cx="505.8" cy="113.3" r="7.9" fill="#d9f00c"/>
<circle cx="519.4" cy="124.4" r="7.9" fill="#ffd80a"/>
<circle cx="499.6" cy="129.8" r="7.9" fill="#94d40f"/>
<circle cx="526.5" cy="140.5" r="7.9" fill="#d9f00c"/>
<circle cx="504.4" cy="157.0" r="7.9" fill="#d9f00c"/>
<circle cx="466.4" cy="165.0" r="7.9" fill="#d9f00c"/>
<circle cx="485.9" cy="172.0" r="7.9" fill="#62bb16"/>
<circle cx="559.6" cy="102.8" r="7.9" fill="#62bb16"/>
<circle cx="570.2" cy="115.5" r="7.9" fill="#ff8c0c"/>
<circle cx="568.9" cy="146.7" r="7.9" fill="#d9f00c"/>
<circle cx="256.3" cy="451.4" r="7.9" fill="#d9f00c"/>
<circle cx="237.1" cy="467.3" r="7.9" fill="#62bb16"/>
<circle cx="237.1" cy="452.6" r="7.9" fill="#ff8c0c"/>
<circle cx="229.2" cy="480.0" r="7.9" fill="#94d40f"/>
<circle cx="282.2" cy="456.3" r="7.9" fill="#ff8c0c"/>
<circle cx="262.5" cy="483.3" r="7.9" fill="#ffd80a"/>
<circle cx="249.6" cy="482.4" r="7.9" fill="#ff5410"/>
<circle cx="267.0" cy="474.6" r="7.9" fill="#d9f00c"/>
<circle cx="258.6" cy="463.2" r="7.9" fill="#ff5410"/>
<circle cx="285.5" cy="477.9" r="7.9" fill="#ff8c0c"/>
<circle cx="273.8" cy="486.9" r="7.9" fill="#f50f14"/>
<use href="#towns"/><use href="#labels"/>
</g>
<rect x="531.4" y="279.3" width="140.4" height="223.1" fill="none" stroke="#000" stroke-width="1.05"/>
<text x="531.90" y="304.30" font-size="26.00" font-weight="700">Cr</text>
<text x="531.86" y="335.00" font-size="16.50" font-weight="700" textLength="50.68" lengthAdjust="spacingAndGlyphs">mg/kg</text>
<circle cx="555.8" cy="358.8" r="8" fill="#d9f00c"/>
<text x="588.66" y="364.50" font-size="16.00" textLength="82.07" lengthAdjust="spacingAndGlyphs">3.20 - 4.00</text>
<circle cx="555.8" cy="391.8" r="8" fill="#ffd80a"/>
<text x="588.93" y="397.50" font-size="16.00" textLength="81.80" lengthAdjust="spacingAndGlyphs">4.01 - 6.00</text>
<circle cx="555.8" cy="424.9" r="8" fill="#ff8c0c"/>
<text x="588.39" y="430.60" font-size="16.00" textLength="82.35" lengthAdjust="spacingAndGlyphs">6.01 - 10.0</text>
<circle cx="555.8" cy="457.7" r="8" fill="#ff5410"/>
<text x="587.98" y="463.40" font-size="16.00" textLength="82.76" lengthAdjust="spacingAndGlyphs">10.1 - 15.0</text>
<circle cx="555.8" cy="490.8" r="8" fill="#f50f14"/>
<text x="587.98" y="496.50" font-size="16.00" textLength="83.04" lengthAdjust="spacingAndGlyphs">15.1 - 15.2</text>
<rect x="1264.3" y="282.6" width="140.6" height="219.8" fill="none" stroke="#000" stroke-width="1.05"/>
<text x="1264.08" y="307.40" font-size="26.00" font-weight="700">Ni</text>
<text x="1264.13" y="344.20" font-size="23.00" font-weight="700" textLength="70.92" lengthAdjust="spacingAndGlyphs">mg/kg</text>
<circle cx="1292.8" cy="373.9" r="8" fill="#62bb16"/>
<text x="1329.94" y="380.90" font-size="19.00" textLength="74.22" lengthAdjust="spacingAndGlyphs">1.1 - 2.0</text>
<circle cx="1292.8" cy="412.0" r="8" fill="#94d40f"/>
<text x="1330.48" y="419.00" font-size="19.00" textLength="73.68" lengthAdjust="spacingAndGlyphs">2.1 - 3.0</text>
<circle cx="1292.8" cy="450.3" r="8" fill="#d9f00c"/>
<text x="1330.74" y="457.30" font-size="19.00" textLength="73.41" lengthAdjust="spacingAndGlyphs">3.1 - 6.0</text>
<circle cx="1292.8" cy="488.4" r="8" fill="#ffd80a"/>
<text x="1330.48" y="495.40" font-size="19.00" textLength="73.68" lengthAdjust="spacingAndGlyphs">6.1 - 9.0</text>
<rect x="531.4" y="795.0" width="140.4" height="227.3" fill="none" stroke="#000" stroke-width="1.05"/>
<text x="531.90" y="820.70" font-size="26.00" font-weight="700">Cu</text>
<text x="531.60" y="854.00" font-size="20.00" font-weight="700" textLength="61.12" lengthAdjust="spacingAndGlyphs">mg/kg</text>
<circle cx="555.8" cy="878.2" r="8" fill="#62bb16"/>
<text x="588.53" y="884.20" font-size="16.00" textLength="82.21" lengthAdjust="spacingAndGlyphs">5.43 - 6.00</text>
<circle cx="555.8" cy="911.3" r="8" fill="#94d40f"/>
<text x="588.39" y="917.30" font-size="16.00" textLength="82.35" lengthAdjust="spacingAndGlyphs">6.01 - 8.00</text>
<circle cx="555.8" cy="944.2" r="8" fill="#d9f00c"/>
<text x="588.53" y="950.20" font-size="16.00" textLength="82.21" lengthAdjust="spacingAndGlyphs">8.01 - 12.0</text>
<circle cx="555.8" cy="977.3" r="8" fill="#ffd80a"/>
<text x="587.98" y="983.30" font-size="16.00" textLength="82.76" lengthAdjust="spacingAndGlyphs">12.1 - 16.0</text>
<circle cx="555.8" cy="1010.3" r="8" fill="#ff8c0c"/>
<text x="587.98" y="1016.30" font-size="16.00" textLength="82.76" lengthAdjust="spacingAndGlyphs">16.1 - 20.0</text>
<rect x="1264.3" y="776.7" width="140.6" height="246.0" fill="none" stroke="#000" stroke-width="1.05"/>
<text x="1264.08" y="801.80" font-size="26.00" font-weight="700">Fe</text>
<text x="1264.01" y="834.00" font-size="19.00" font-weight="700" textLength="57.94" lengthAdjust="spacingAndGlyphs">mg/kg</text>
<circle cx="1287.1" cy="857.1" r="8" fill="#94d40f"/>
<text x="1317.87" y="862.50" font-size="16.00" textLength="76.84" lengthAdjust="spacingAndGlyphs">501 - 1000</text>
<circle cx="1287.1" cy="887.8" r="8" fill="#d9f00c"/>
<text x="1317.36" y="893.20" font-size="16.00" textLength="86.17" lengthAdjust="spacingAndGlyphs">1010 - 1500</text>
<circle cx="1287.1" cy="918.5" r="8" fill="#ffd80a"/>
<text x="1317.36" y="923.90" font-size="16.00" textLength="86.17" lengthAdjust="spacingAndGlyphs">1510 - 2000</text>
<circle cx="1287.1" cy="949.4" r="8" fill="#ff8c0c"/>
<text x="1317.75" y="954.80" font-size="16.00" textLength="85.79" lengthAdjust="spacingAndGlyphs">2010 - 3000</text>
<circle cx="1287.1" cy="980.1" r="8" fill="#ff5410"/>
<text x="1318.00" y="985.50" font-size="16.00" textLength="85.53" lengthAdjust="spacingAndGlyphs">3010 - 4000</text>
<circle cx="1287.1" cy="1010.8" r="8" fill="#f50f14"/>
<text x="1318.25" y="1016.20" font-size="16.00" textLength="85.28" lengthAdjust="spacingAndGlyphs">4010 - 5050</text>
<rect x="537.4" y="1378.6" width="141.1" height="161.7" fill="none" stroke="#000" stroke-width="1.05"/>
<text x="537.67" y="1403.50" font-size="26.00" font-weight="700">Pb</text>
<text x="537.29" y="1437.80" font-size="20.00" font-weight="700" textLength="61.64" lengthAdjust="spacingAndGlyphs">mg/kg</text>
<circle cx="562.1" cy="1462.1" r="8" fill="#62bb16"/>
<text x="594.48" y="1468.10" font-size="16.00" textLength="82.76" lengthAdjust="spacingAndGlyphs">1.47 - 2.00</text>
<circle cx="562.1" cy="1494.9" r="8" fill="#94d40f"/>
<text x="594.89" y="1500.90" font-size="16.00" textLength="82.35" lengthAdjust="spacingAndGlyphs">2.01 - 4.00</text>
<circle cx="562.1" cy="1528.0" r="8" fill="#d9f00c"/>
<text x="595.43" y="1534.00" font-size="16.00" textLength="81.80" lengthAdjust="spacingAndGlyphs">4.01 - 8.00</text>
<rect x="1264.4" y="1268.7" width="140.3" height="275.6" fill="none" stroke="#000" stroke-width="1.05"/>
<text x="1265.05" y="1293.60" font-size="26.00" font-weight="700">Sb</text>
<text x="1264.35" y="1321.50" font-size="16.50" font-weight="700" textLength="50.78" lengthAdjust="spacingAndGlyphs">mg/kg</text>
<circle cx="1284.8" cy="1342.8" r="8" fill="#3fa814"/>
<text x="1311.68" y="1347.20" font-size="12.60" textLength="91.71" lengthAdjust="spacingAndGlyphs">0.0420 - 0.050</text>
<circle cx="1284.8" cy="1370.1" r="8" fill="#62bb16"/>
<text x="1311.68" y="1374.50" font-size="12.60" textLength="91.71" lengthAdjust="spacingAndGlyphs">0.0501 - 0.090</text>
<circle cx="1284.8" cy="1397.5" r="8" fill="#94d40f"/>
<text x="1311.68" y="1401.90" font-size="12.60" textLength="91.71" lengthAdjust="spacingAndGlyphs">0.0901 - 0.130</text>
<circle cx="1284.8" cy="1424.8" r="8" fill="#d9f00c"/>
<text x="1311.68" y="1429.20" font-size="12.60" textLength="84.09" lengthAdjust="spacingAndGlyphs">0.131 - 0.170</text>
<circle cx="1284.8" cy="1452.2" r="8" fill="#ffd80a"/>
<text x="1311.68" y="1456.60" font-size="12.60" textLength="84.09" lengthAdjust="spacingAndGlyphs">0.171 - 0.210</text>
<circle cx="1284.8" cy="1479.5" r="8" fill="#ff8c0c"/>
<text x="1311.67" y="1483.90" font-size="12.60" textLength="83.32" lengthAdjust="spacingAndGlyphs">0.211 - 0.250</text>
<circle cx="1284.8" cy="1506.9" r="8" fill="#ff5410"/>
<text x="1311.68" y="1511.30" font-size="12.60" textLength="84.09" lengthAdjust="spacingAndGlyphs">0.251 - 0.360</text>
<circle cx="1284.8" cy="1533.8" r="8" fill="#f50f14"/>
<text x="1311.68" y="1538.20" font-size="12.60" textLength="84.09" lengthAdjust="spacingAndGlyphs">0.361 - 0.780</text>
<rect x="531.5" y="1735.7" width="141.0" height="325.8" fill="none" stroke="#000" stroke-width="1.05"/>
<text x="531.05" y="1760.90" font-size="26.00" font-weight="700">Zn</text>
<text x="530.89" y="1794.10" font-size="20.00" font-weight="700" textLength="61.85" lengthAdjust="spacingAndGlyphs">mg/kg</text>
<circle cx="556.2" cy="1818.8" r="8" fill="#3fa814"/>
<text x="588.48" y="1824.80" font-size="16.00" textLength="83.17" lengthAdjust="spacingAndGlyphs">16.5 - 20.0</text>
<circle cx="556.2" cy="1851.7" r="8" fill="#62bb16"/>
<text x="588.89" y="1857.70" font-size="16.00" textLength="82.75" lengthAdjust="spacingAndGlyphs">20.1 - 30.0</text>
<circle cx="556.2" cy="1884.7" r="8" fill="#94d40f"/>
<text x="589.16" y="1890.70" font-size="16.00" textLength="82.48" lengthAdjust="spacingAndGlyphs">30.1 - 40.0</text>
<circle cx="556.2" cy="1917.6" r="8" fill="#d9f00c"/>
<text x="589.43" y="1923.60" font-size="16.00" textLength="82.21" lengthAdjust="spacingAndGlyphs">40.1 - 60.0</text>
<circle cx="556.2" cy="1950.5" r="8" fill="#ffd80a"/>
<text x="588.89" y="1956.50" font-size="16.00" textLength="82.75" lengthAdjust="spacingAndGlyphs">60.1 - 80.0</text>
<circle cx="556.2" cy="1983.5" r="8" fill="#ff8c0c"/>
<text x="589.03" y="1989.50" font-size="16.00" textLength="77.57" lengthAdjust="spacingAndGlyphs">80.1 - 100</text>
<circle cx="556.2" cy="2016.4" r="8" fill="#ff5410"/>
<text x="588.48" y="2022.40" font-size="16.00" textLength="73.24" lengthAdjust="spacingAndGlyphs">101 - 120</text>
<circle cx="556.2" cy="2049.2" r="8" fill="#f50f14"/>
<text x="588.48" y="2055.20" font-size="16.00" textLength="73.38" lengthAdjust="spacingAndGlyphs">121 - 179</text>
<rect x="1264.5" y="1728.5" width="140.1" height="277.0" fill="none" stroke="#000" stroke-width="1.05"/>
<text x="1264.38" y="1753.80" font-size="26.00" font-weight="700">V</text>
<text x="1264.32" y="1786.00" font-size="18.50" font-weight="700" textLength="57.07" lengthAdjust="spacingAndGlyphs">mg/kg</text>
<circle cx="1287.2" cy="1809.0" r="8" fill="#62bb16"/>
<text x="1317.57" y="1814.50" font-size="16.00" textLength="86.06" lengthAdjust="spacingAndGlyphs">0.800 - 1.80</text>
<circle cx="1287.2" cy="1839.8" r="8" fill="#94d40f"/>
<text x="1317.06" y="1845.30" font-size="16.00" textLength="77.45" lengthAdjust="spacingAndGlyphs">1.81 - 2.80</text>
<circle cx="1287.2" cy="1870.6" r="8" fill="#d9f00c"/>
<text x="1317.44" y="1876.10" font-size="16.00" textLength="77.19" lengthAdjust="spacingAndGlyphs">2.81 - 3.45</text>
<circle cx="1287.2" cy="1901.2" r="8" fill="#ffd80a"/>
<text x="1317.70" y="1906.70" font-size="16.00" textLength="76.80" lengthAdjust="spacingAndGlyphs">3.46 - 5.00</text>
<circle cx="1287.2" cy="1931.9" r="8" fill="#ff8c0c"/>
<text x="1317.57" y="1937.40" font-size="16.00" textLength="76.93" lengthAdjust="spacingAndGlyphs">5.01 - 6.30</text>
<circle cx="1287.2" cy="1962.8" r="8" fill="#ff5410"/>
<text x="1317.44" y="1968.30" font-size="16.00" textLength="77.06" lengthAdjust="spacingAndGlyphs">6.31 - 9.80</text>
<circle cx="1287.2" cy="1993.8" r="8" fill="#f50f14"/>
<text x="1317.44" y="1999.30" font-size="16.00" textLength="77.06" lengthAdjust="spacingAndGlyphs">9.81 - 18.0</text>
<text x="1377.37" y="84.80" font-size="68.60" textLength="49.59" lengthAdjust="spacingAndGlyphs">N</text>
<path fill="#000" fill-rule="evenodd" d="M1401 97.5 L1354.6 254.8 L1401 200.5 L1447.9 254.8 Z M1402.2 113.5 L1402.2 192.7 L1435 233.5 Z"/>
<rect x="1059" y="2045" width="313" height="13" fill="#000"/>
<rect x="1080.4" y="2047.3" width="17.3" height="8.7" fill="#fff"/>
<rect x="1118.5" y="2047.3" width="17.6" height="8.7" fill="#fff"/>
<rect x="1216.7" y="2047.3" width="75.3" height="8.7" fill="#fff"/>
<text x="1059.6" y="2035.4" font-size="20.3" text-anchor="middle">0</text>
<text x="1099.0" y="2035.4" font-size="20.3" text-anchor="middle">10</text>
<text x="1137.0" y="2035.4" font-size="20.3" text-anchor="middle">20</text>
<text x="1215.0" y="2035.4" font-size="20.3" text-anchor="middle">40</text>
<text x="1292.6" y="2035.4" font-size="20.3" text-anchor="middle">60</text>
<text x="1370.5" y="2035.4" font-size="20.3" text-anchor="middle">80</text>
<text x="1375.64" y="2056.80" font-size="20.00" textLength="29.06" lengthAdjust="spacingAndGlyphs">km</text>
<g fill="#000">
<rect x="0" y="0" width="1471" height="1.2"/>
<rect x="0" y="0" width="1.2" height="2084"/>
<rect x="1469" y="0" width="2" height="2084"/>
<rect x="0" y="2081" width="1471" height="3"/>
<rect x="734" y="0" width="2.1" height="2084"/>
<rect x="0" y="519.9" width="1471" height="2"/>
<rect x="0" y="1040.2" width="1471" height="2.6"/>
<rect x="0" y="1561" width="1471" height="2.1"/>
</g>
</svg></body></html>
